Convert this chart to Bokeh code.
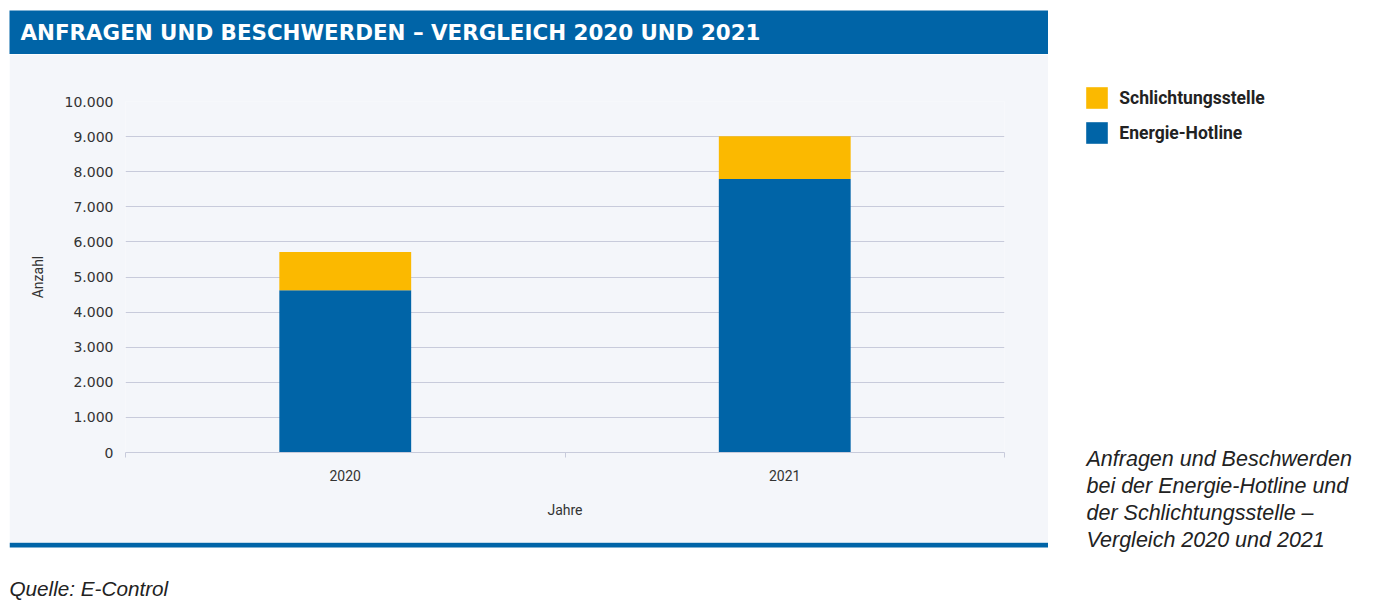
from bokeh.plotting import figure
from bokeh.layouts import row, column
from bokeh.models import (ColumnDataSource, Range1d, FixedTicker, Label, Legend,
                          LegendItem, Spacer, BoxAnnotation)
from bokeh.embed import file_html
from bokeh.resources import INLINE

# ---------------- data ----------------
years = ["2020", "2021"]
hotline = [4620, 7790]
schlichtung = [1090, 1220]
series_names = ["Energie-Hotline", "Schlichtungsstelle"]
y_ticks = list(range(0, 10001, 1000))
y_max = 10000

title_text = "ANFRAGEN UND BESCHWERDEN – VERGLEICH 2020 UND 2021"
caption_lines = ["Anfragen und Beschwerden",
                 "bei der Energie-Hotline und",
                 "der Schlichtungsstelle –",
                 "Vergleich 2020 und 2021"]
source_text = "Quelle: E-Control"
x_title = "Jahre"
y_title = "Anzahl"

# ---------------- style ----------------
BLUE = "#0064a7"
YELLOW = "#fbb900"
PANEL = "#f4f6fa"
GRID = "#c8cbdb"
TXT = "#333333"
DARK = "#222222"

LEFT_W = 1039      # width of the framed chart block
RIGHT_W = 330
TOTAL_H = 605
SRC_H = TOTAL_H - 10 - 44 - 488


def blank(width, height, bg):
    f = figure(width=width, height=height, output_backend="svg", toolbar_location=None,
               x_range=Range1d(0, width), y_range=Range1d(0, height),
               x_axis_location=None, y_axis_location=None,
               min_border=0, min_border_left=0, min_border_right=0,
               min_border_top=0, min_border_bottom=0,
               background_fill_color=bg, border_fill_color=bg, outline_line_color=None)
    f.grid.visible = False
    return f


x_pos = [i + 0.5 for i in range(len(years))]
src = ColumnDataSource(dict(x=x_pos, year=years, hotline=hotline, schlichtung=schlichtung))

# ---- title banner ----
f_top = blank(LEFT_W, 44, BLUE)
f_top.add_layout(Label(x=11, y=22, x_units="screen", y_units="screen", text=title_text,
                       text_font="DejaVu Sans", text_font_style="bold", text_font_size="21.4px",
                       text_color="white", text_baseline="middle", text_align="left"))

# ---- chart ----
p = figure(width=LEFT_W, height=488, output_backend="svg", toolbar_location=None,
           x_range=Range1d(0, len(years)), y_range=Range1d(0, y_max),
           min_border_left=116, min_border_right=44, min_border_top=47, min_border_bottom=90,
           background_fill_color=PANEL, border_fill_color=PANEL, outline_line_color=None)

p.vbar_stack(["hotline", "schlichtung"], x="x", width=0.3, color=[BLUE, YELLOW],
             line_color=None, source=src)

p.xaxis.ticker = FixedTicker(ticks=x_pos, minor_ticks=list(range(len(years) + 1)))
p.xaxis.major_label_overrides = {x: y for x, y in zip(x_pos, years)}
p.xaxis.major_tick_line_color = None
p.xaxis.major_tick_out = 0
p.xaxis.major_tick_in = 0
p.xaxis.minor_tick_line_color = GRID
p.xaxis.minor_tick_out = 5
p.xaxis.minor_tick_in = 0
p.xaxis.axis_line_color = GRID
p.xaxis.major_label_standoff = 12
p.xaxis.major_label_text_font = "Roboto"
p.xaxis.major_label_text_font_size = "14px"
p.xaxis.major_label_text_color = TXT
p.xaxis.axis_label = x_title
p.xaxis.axis_label_standoff = 18
p.xaxis.axis_label_text_font = "Roboto"
p.xaxis.axis_label_text_font_size = "14px"
p.xaxis.axis_label_text_font_style = "normal"
p.xaxis.axis_label_text_color = TXT

p.yaxis.ticker = FixedTicker(ticks=y_ticks)
p.yaxis.major_label_overrides = {t: f"{t:,}".replace(",", ".") for t in y_ticks}
p.yaxis.axis_line_color = None
p.yaxis.major_tick_line_color = None
p.yaxis.minor_tick_line_color = None
p.yaxis.major_tick_out = 0
p.yaxis.major_label_standoff = 12
p.yaxis.major_label_text_font = "DejaVu Sans"
p.yaxis.major_label_text_font_size = "14px"
p.yaxis.major_label_text_color = TXT
p.yaxis.axis_label = y_title
p.yaxis.axis_label_standoff = 16
p.yaxis.axis_label_text_font = "Roboto"
p.yaxis.axis_label_text_font_size = "14px"
p.yaxis.axis_label_text_font_style = "normal"
p.yaxis.axis_label_text_color = TXT

p.xgrid.grid_line_color = None
p.ygrid.grid_line_color = GRID
p.ygrid.grid_line_width = 1

# ---- bottom blue rule + source note ----
f_src = blank(LEFT_W, SRC_H, "white")
f_src.add_layout(BoxAnnotation(bottom=SRC_H - 5, top=SRC_H, fill_color=BLUE, fill_alpha=1,
                               line_color=None))
f_src.add_layout(Label(x=0, y=SRC_H - 46, x_units="screen", y_units="screen", text=source_text,
                       text_font="Liberation Sans", text_font_style="italic",
                       text_font_size="20.7px", text_color=DARK,
                       text_baseline="middle", text_align="left"))

# ---- right column: legend + caption ----
f_right = blank(RIGHT_W, TOTAL_H, "white")
lr = f_right.vbar_stack(["hotline", "schlichtung"], x="x", width=0.3, color=[BLUE, YELLOW],
                        line_color=None, source=src, visible=False)
legend = Legend(items=[LegendItem(label=series_names[1], renderers=[lr[1]]),
                       LegendItem(label=series_names[0], renderers=[lr[0]])],
                location=(35.3, 458.7),
                orientation="vertical", glyph_width=27, glyph_height=27, label_height=27,
                spacing=8, padding=0, margin=0, label_standoff=9,
                border_line_color=None, background_fill_alpha=0,
                inactive_fill_alpha=0,
                label_text_font="Roboto", label_text_font_size="17.5px",
                label_text_font_style="bold", label_text_color=DARK)
f_right.add_layout(legend)
for i, line in enumerate(caption_lines):
    f_right.add_layout(Label(x=38, y=TOTAL_H - (458 + 27.3 * i), x_units="screen",
                             y_units="screen", text=line, text_font="Liberation Sans",
                             text_font_style="italic", text_font_size="21.5px",
                             text_color=DARK, text_baseline="middle", text_align="left"))

left_col = column(Spacer(width=LEFT_W, height=10), row(f_top), p, row(f_src), spacing=0)
layout = row(Spacer(width=9, height=TOTAL_H), left_col, f_right, spacing=0)

open("out.html", "w").write(file_html(layout, INLINE))
